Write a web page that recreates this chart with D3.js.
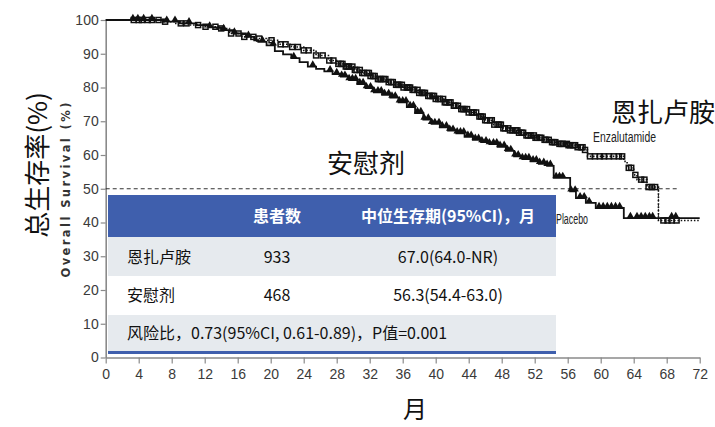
<!DOCTYPE html>
<html>
<head>
<meta charset="utf-8">
<script src="https://cdn.jsdelivr.net/npm/d3@7"></script>
<style>
  body { margin: 0; background: #fff; }
  svg { display: block; }
</style>
</head>
<body>
<svg id="chart" width="715" height="427"></svg>
<script>
// ---- Data -------------------------------------------------------------
const xTickValues = [0, 4, 8, 12, 16, 20, 24, 28, 32, 36, 40, 44, 48, 52, 56, 60, 64, 68, 72];
const yTickValues = [0, 10, 20, 30, 40, 50, 60, 70, 80, 90, 100];

// Kaplan-Meier step knots (month, overall survival %)
const enzaMonths = [0, 6, 7, 8.5, 10, 12, 13.5, 15, 16.5, 18, 19.5, 21, 22.5, 24, 25.5, 27, 28, 29, 30, 31,
  32, 33, 34, 35, 36, 37, 38, 39, 40, 41, 42, 43, 44, 45, 46, 47, 48, 49, 50, 51,
  52, 53, 54, 55, 56, 57, 58, 58.4, 62.8, 63.2, 64, 64.4, 65.6, 67.0, 72];
const enzaSurvival = [100, 100, 99.5, 99, 98.5, 98, 97.5, 96, 95, 94.5, 94, 92.8, 92, 91, 89.5, 88, 87, 86.2, 85.2, 84.3,
  83.4, 82.5, 81.6, 80.8, 80, 79.3, 78.4, 77.5, 76.6, 75.6, 74.6, 73.6, 72.6, 71.4, 70.3, 69, 67.9, 67.3, 66.6, 65.8,
  65.1, 64.5, 63.8, 63.3, 62.9, 62.3, 61.5, 59.6, 58.1, 56.2, 54.1, 52.7, 50.5, 40.6, 40.6];

const placeboMonths = [0, 7, 9, 11, 12.5, 14, 15.5, 17, 18, 18.5, 19.5, 20.5, 21.5, 22.5, 23.5, 24.5, 25.5, 26.5, 27.5, 28.5,
  29.5, 30.5, 31.5, 32.5, 33.5, 34.5, 35.5, 36.5, 37.5, 38.5, 39.5, 40.5, 41.5, 42.5, 43.5, 44.5, 45.5, 46.5, 47.5, 48.5,
  49.5, 50.5, 51.5, 52.5, 53.5, 54.3, 56.3, 57, 58.2, 59.4, 62.8, 72];
const placeboSurvival = [100, 99.5, 99, 98.5, 97.8, 97, 96, 95, 94, 93.5, 92.5, 90.8, 89.8, 88.7, 87.5, 86.2, 85.5, 84.8, 84, 83.2,
  82.2, 81, 79.8, 78.6, 77.8, 77, 75.6, 74.2, 72.4, 70.5, 69.2, 68.2, 67.2, 66.4, 65.4, 64.5, 63.8, 63.2, 62.4, 61.2,
  59.6, 58.8, 58.1, 57.4, 56.8, 53.2, 49.2, 47.2, 45.8, 44.3, 41.3, 41.3];

// Censoring times (months)
const enzaCensored = [3.4, 4.0, 4.4, 5.1, 5.6, 6.4, 7.2, 9.1, 9.8, 11.2, 12.1, 13.3, 14.0, 15.2, 16.1, 16.8, 17.9, 18.6,
  20.1, 21.2, 21.8, 22.6, 23.3, 24.0, 24.6, 25.5, 26.3, 27.1, 27.6, 28.2, 28.5, 28.7, 29.1, 29.3, 29.5, 29.9, 30.2, 30.4, 30.8, 31.1, 31.3,
  31.7, 31.9, 32.1, 32.4, 32.6, 33.0, 33.2, 33.4, 33.7, 33.9, 34.3, 34.6, 34.8, 35.2, 35.4, 35.6, 35.9, 36.1, 36.5, 36.7, 36.9, 37.2, 37.4, 37.8, 38.0, 38.3, 38.5, 38.7, 39.1, 39.3, 39.6,
  39.8, 40.0, 40.3, 40.5, 40.9, 41.1, 41.3, 41.6, 41.8, 42.2, 42.4, 42.7, 43.1, 43.3, 43.5, 43.8, 44.0, 44.4, 44.6, 44.9, 45.3, 45.5, 45.7, 46.0, 46.2, 46.6, 46.8, 47.1, 47.5, 47.7, 47.9,
  48.2, 48.4, 48.8, 49.0, 49.3, 49.7, 49.9, 50.1, 50.4, 50.6, 51.0, 51.2, 51.5, 51.9, 52.1, 52.3, 52.6, 52.8, 53.2, 53.4, 53.7, 54.1, 54.3, 54.5, 55.0, 55.2, 55.4, 55.9, 56.1, 56.3,
  56.7, 56.9, 57.2, 57.6, 57.8, 58.1, 58.7, 59.3, 59.9, 60.4, 61.0, 61.6, 62.2, 62.6, 63.4, 63.7, 64.2, 64.9, 65.3, 65.8, 66.2,
  66.6, 67.6, 68.1, 68.6, 69.2];
const placeboCensored = [3.3, 3.9, 4.6, 5.6, 7.4, 8.4, 10.1, 12.6, 14.3, 15.6, 17.3, 19.0, 20.3, 22.8, 25.1, 27.2, 28.0,
  28.6, 29.0, 29.5, 29.9, 30.3, 30.8, 31.2, 31.6, 32.1, 32.5, 33.0, 33.4, 33.8, 34.3, 34.7, 35.1, 35.6, 36.0, 36.4,
  36.9, 37.3, 37.8, 38.2, 38.6, 39.1, 39.5, 39.9, 40.4, 40.8, 41.3, 41.7, 42.1, 42.6, 43.0, 43.4, 43.9, 44.3, 44.8,
  45.2, 45.6, 46.1, 46.5, 47.0, 47.4, 47.8, 48.3, 48.7, 49.1, 49.6, 50.0, 50.5, 50.9, 51.3, 51.8, 52.2, 52.6, 53.1,
  53.5, 53.9, 54.6, 55.0, 55.4, 56.4, 56.9, 57.5, 58.0, 58.6, 59.8, 60.3, 60.8, 61.3, 61.8, 62.3, 63.6, 64.4, 64.9,
  65.4, 65.9, 66.3, 68.6, 69.1];

const medianLevel = 50;
const enzaMedian = 67.0;

const tableHeader = ["", "患者数", "中位生存期(95%CI)，月"];
const tableRows = [
  ["恩扎卢胺", "933", "67.0(64.0-NR)"],
  ["安慰剂", "468", "56.3(54.4-63.0)"]
];
const hazardNote = "风险比，0.73(95%CI, 0.61-0.89)，P值=0.001";

// ---- Layout -----------------------------------------------------------
const svg = d3.select("#chart");
const x = d3.scaleLinear().domain([0, 72]).range([105.7, 699.7]);
const y = d3.scaleLinear().domain([0, 100]).range([357.5, 20]);

const axisColor = "#8a8a8a";
const tickFont = "'Liberation Sans Narrow', 'Liberation Sans', sans-serif";
const cjkFont = "'Noto Sans CJK SC', 'Noto Sans', sans-serif";
const blue = "#3f5fad";

// Y axis
const yAxis = svg.append("g")
  .attr("transform", `translate(${x(0)},0)`)
  .call(d3.axisLeft(y).tickValues(yTickValues).tickSize(5).tickSizeOuter(0).tickPadding(2));
// X axis
const xAxis = svg.append("g")
  .attr("transform", `translate(0,${y(0)})`)
  .call(d3.axisBottom(x).tickValues(xTickValues).tickSize(6).tickSizeOuter(0).tickPadding(6));

[yAxis, xAxis].forEach(g => {
  g.select(".domain").attr("stroke", axisColor).attr("stroke-width", 1.6);
  g.selectAll(".tick line").attr("stroke", axisColor).attr("stroke-width", 1.2);
  g.selectAll(".tick text")
    .attr("fill", "#3a3a3a")
    .style("font-family", tickFont)
    .style("font-size", "14px");
});

// Axis titles
svg.append("text")
  .attr("transform", `translate(47,165) rotate(-90)`)
  .attr("text-anchor", "middle")
  .style("font-family", cjkFont)
  .style("font-size", "26px")
  .attr("fill", "#111")
  .text("总生存率(%)");

svg.append("text")
  .attr("transform", `translate(70,190) rotate(-90)`)
  .attr("text-anchor", "middle")
  .attr("textLength", 175)
  .attr("lengthAdjust", "spacing")
  .style("font-family", "'DejaVu Sans', sans-serif")
  .style("font-weight", "bold")
  .style("font-size", "11.5px")
  .attr("fill", "#333")
  .text("Overall Survival (%)");

svg.append("text")
  .attr("x", 415).attr("y", 418)
  .attr("text-anchor", "middle")
  .style("font-family", cjkFont)
  .style("font-size", "24px")
  .attr("fill", "#111")
  .text("月");

// Median reference lines
svg.append("line")
  .attr("x1", x(0)).attr("x2", x(69.4))
  .attr("y1", y(medianLevel)).attr("y2", y(medianLevel))
  .attr("stroke", "#333").attr("stroke-width", 1.1)
  .attr("stroke-dasharray", "4,3");

const stepValue = (months, surv, t) => surv[Math.max(0, d3.bisectRight(months, t) - 1)];

svg.append("line")
  .attr("x1", x(enzaMedian)).attr("x2", x(enzaMedian))
  .attr("y1", y(medianLevel)).attr("y2", y(stepValue(enzaMonths, enzaSurvival, enzaMedian)))
  .attr("stroke", "#333").attr("stroke-width", 1.1)
  .attr("stroke-dasharray", "3,2");

// Survival curves
const stepLine = d3.line().curve(d3.curveStepAfter)
  .x(d => x(d[0])).y(d => y(d[1]));

svg.append("path")
  .datum(d3.zip(placeboMonths, placeboSurvival))
  .attr("d", stepLine)
  .attr("fill", "none").attr("stroke", "#111").attr("stroke-width", 1.8);

svg.append("path")
  .datum(d3.zip(enzaMonths, enzaSurvival))
  .attr("d", stepLine)
  .attr("fill", "none").attr("stroke", "#111").attr("stroke-width", 1.6)
  .attr("stroke-dasharray", "1.5,1.8");

// Censor marks: triangles for placebo, open squares for enzalutamide
const tri = d3.symbol().type(d3.symbolTriangle).size(24);
svg.append("g").selectAll("path")
  .data(placeboCensored)
  .join("path")
  .attr("d", tri)
  .attr("transform", t => `translate(${x(t)},${y(stepValue(placeboMonths, placeboSurvival, t)) - 2})`)
  .attr("fill", "#111");

svg.append("g").selectAll("rect")
  .data(enzaCensored)
  .join("rect")
  .attr("x", t => x(t) - 2.5)
  .attr("y", t => y(stepValue(enzaMonths, enzaSurvival, t)) - 2.5)
  .attr("width", 5).attr("height", 5)
  .attr("fill", "none")
  .attr("stroke", "#111").attr("stroke-width", 1.5);

// Curve labels
svg.append("text").attr("x", 611).attr("y", 122)
  .style("font-family", cjkFont).style("font-size", "26px").attr("fill", "#111")
  .text("恩扎卢胺");
svg.append("text").attr("x", 593).attr("y", 142)
  .attr("textLength", 63).attr("lengthAdjust", "spacingAndGlyphs")
  .style("font-family", tickFont).style("font-size", "14px").attr("fill", "#222")
  .text("Enzalutamide");
svg.append("text").attr("x", 366).attr("y", 173)
  .attr("text-anchor", "middle")
  .style("font-family", cjkFont).style("font-size", "26px").attr("fill", "#111")
  .text("安慰剂");
svg.append("text").attr("x", 556).attr("y", 224)
  .attr("textLength", 32).attr("lengthAdjust", "spacingAndGlyphs")
  .style("font-family", tickFont).style("font-size", "14px").attr("fill", "#222")
  .text("Placebo");

// Summary table
const tX0 = 108, tX1 = 556;
const colCenters = [null, 277, 448];
const bands = [
  { y0: 195, y1: 237, fill: blue },
  { y0: 237, y1: 276, fill: "#e6eaee" },
  { y0: 276, y1: 315, fill: "#ffffff" },
  { y0: 315, y1: 351, fill: "#e6eaee" },
  { y0: 351, y1: 354, fill: blue }
];
svg.append("g").selectAll("rect")
  .data(bands).join("rect")
  .attr("x", tX0).attr("width", tX1 - tX0)
  .attr("y", d => d.y0).attr("height", d => d.y1 - d.y0)
  .attr("fill", d => d.fill);

const table = svg.append("g")
  .style("font-family", cjkFont).style("font-size", "16px");

tableHeader.forEach((h, i) => {
  if (!h) return;
  table.append("text")
    .attr("x", colCenters[i]).attr("y", 216)
    .attr("dy", "0.35em")
    .attr("text-anchor", "middle")
    .style("font-weight", "bold")
    .attr("fill", "#fff")
    .text(h);
});

const rowCenters = [257, 295];
tableRows.forEach((row, r) => {
  row.forEach((cell, i) => {
    table.append("text")
      .attr("x", i === 0 ? 127 : colCenters[i])
      .attr("y", rowCenters[r])
      .attr("dy", "0.35em")
      .attr("text-anchor", i === 0 ? "start" : "middle")
      .attr("fill", "#111")
      .text(cell);
  });
});

table.append("text")
  .attr("x", 127).attr("y", 333).attr("dy", "0.35em")
  .attr("fill", "#111")
  .text(hazardNote);
</script>
</body>
</html>
